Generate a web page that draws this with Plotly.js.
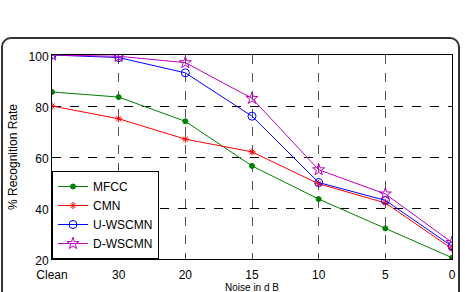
<!DOCTYPE html>
<html><head><meta charset="utf-8">
<script src="https://cdn.plot.ly/plotly-3.0.1.min.js"></script>
<style>
html,body{margin:0;padding:0;background:#fff;}
#wrap{position:relative;width:465px;height:292px;overflow:hidden;}
#frame{position:absolute;left:1px;top:37px;width:459px;height:300px;border:2px solid #333;border-radius:10px;box-sizing:border-box;}
#chart{position:absolute;left:0;top:0;width:465px;height:293px;}
</style></head>
<body><div id="wrap"><div id="frame"></div><div id="chart"></div></div>
<script>
const categories = ["Clean","30","20","15","10","5","0"];
const mfcc   = [85.5, 83.5, 74, 56.5, 43.5, 32, 20.5];
const cmn    = [80, 75, 67, 62, 49.5, 42, 24];
const uwscmn = [100, 99, 93, 76, 50, 43, 25];
const dwscmn = [100, 99.5, 97, 83, 55, 45.5, 26.5];
const yTicks = [20,40,60,80,100];

function tr(name, y, color, symbol, size){
  return {x: categories, y: y, name: name, type:'scatter', mode:'lines+markers',
    line:{color: color, width:1}, marker:{symbol: symbol, size: size, color: color,
    line:{color: color, width:1}}};
}
const data = [
  tr('MFCC', mfcc, '#008000', 'circle', 5),
  tr('CMN', cmn, '#ff0000', 'asterisk-open', 6),
  tr('U-WSCMN', uwscmn, '#0000ff', 'circle-open', 8),
  tr('D-WSCMN', dwscmn, '#c000c0', 'star-open', 9)
];
const font = {family:'Liberation Sans, Arial, sans-serif', size:12, color:'#000'};
const layout = {
  width:465, height:293, margin:{l:52, r:13, t:55, b:34},
  paper_bgcolor:'rgba(0,0,0,0)', plot_bgcolor:'#fff', font: font,
  showlegend:true,
  legend:{x:0, y:0, xanchor:'left', yanchor:'bottom', bgcolor:'#fff',
    bordercolor:'#000', borderwidth:1, font:{family:font.family, size:12},
    tracegroupgap:0, itemwidth:30},
  xaxis:{type:'category', range:[0,6], showline:true, mirror:true, linecolor:'#000', linewidth:1,
    showgrid:true, gridcolor:'#555', griddash:'dash', gridwidth:1,
    ticks:'outside', ticklen:5, tickcolor:'rgba(0,0,0,0)', tickfont:{size:12},
    title:{text:'Noise in d B', font:{size:10}, standoff:0}, zeroline:false},
  yaxis:{range:[20,100], tickvals:yTicks, showline:true, mirror:true, linecolor:'#000', linewidth:1,
    showgrid:true, gridcolor:'#000', griddash:'dash', gridwidth:1, ticks:'', tickfont:{size:12},
    ticklabelshift:2,
    title:{text:'% Recognition Rate', font:{size:12}, standoff:8}, zeroline:false}
};
Plotly.newPlot('chart', data, layout, {displayModeBar:false, staticPlot:true});
</script></body></html>
